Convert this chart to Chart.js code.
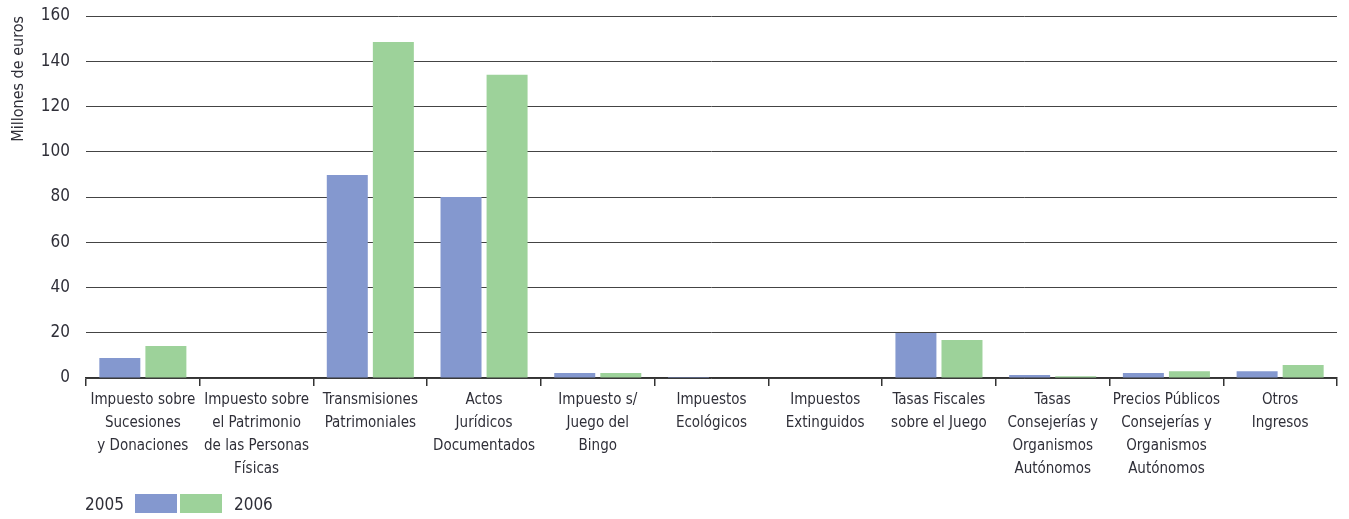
<!DOCTYPE html>
<html>
<head>
<meta charset="utf-8">
<script src="https://cdn.jsdelivr.net/npm/chart.js@4/dist/chart.umd.min.js"></script>
<style>
  html, body { margin: 0; padding: 0; background: #fff; }
  #wrap { position: relative; width: 1349px; height: 519px; }
  #legend { position: absolute; left: 85px; top: 494px; height: 19px; display: flex; align-items: center;
    font-family: 'Liberation Sans Narrow', 'DejaVu Sans Condensed', sans-serif; font-size: 17px; color: #2f2f38; }
  #legend .box { width: 42px; height: 19px; display: inline-block; }
</style>
</head>
<body>
<div id="wrap">
  <canvas id="c" width="1349" height="519"></canvas>
  <div id="legend">
    <span style="margin-right:11px">2005</span>
    <span class="box" style="background:#8498cf;margin-right:3px"></span>
    <span class="box" style="background:#9dd29a;margin-right:12px"></span>
    <span>2006</span>
  </div>
</div>
<script>
const categories = [
  ["Impuesto sobre","Sucesiones","y Donaciones"],
  ["Impuesto sobre","el Patrimonio","de las Personas","Físicas"],
  ["Transmisiones","Patrimoniales"],
  ["Actos","Jurídicos","Documentados"],
  ["Impuesto s/","Juego del","Bingo"],
  ["Impuestos","Ecológicos"],
  ["Impuestos","Extinguidos"],
  ["Tasas Fiscales","sobre el Juego"],
  ["Tasas","Consejerías y","Organismos","Autónomos"],
  ["Precios Públicos","Consejerías y","Organismos","Autónomos"],
  ["Otros","Ingresos"]
];
const values2005 = [8.8, 0, 89.7, 80.0, 2.2, 0.4, 0, 19.9, 1.3, 2.2, 3.0];
const values2006 = [14.1, 0, 148.5, 134.0, 2.2, 0, 0, 16.8, 0.8, 3.0, 5.7];
const yTicks = [0, 20, 40, 60, 80, 100, 120, 140, 160];
const seriesNames = ["2005", "2006"];

const FONT = "'Liberation Sans Narrow', 'DejaVu Sans Condensed', sans-serif";
const TXT = '#2f2f38';

new Chart(document.getElementById('c'), {
  type: 'bar',
  data: {
    labels: categories,
    datasets: [
      { label: seriesNames[0], data: values2005, backgroundColor: '#8498cf', categoryPercentage: 0.81, barPercentage: 0.89 },
      { label: seriesNames[1], data: values2006, backgroundColor: '#9dd29a', categoryPercentage: 0.81, barPercentage: 0.89 }
    ]
  },
  options: {
    responsive: false,
    animation: false,
    layout: { padding: { top: 16, right: 12, left: 0, bottom: 0 } },
    plugins: { legend: { display: false }, tooltip: { enabled: false } },
    scales: {
      x: {
        offset: true,
        grid: { offset: true, drawOnChartArea: false, drawTicks: true, tickLength: 8, color: '#333', lineWidth: 1.5 },
        border: { display: true, color: '#333', width: 1.5 },
        ticks: { color: TXT, font: { family: FONT, size: 15, lineHeight: 1.55 }, padding: 2, maxRotation: 0, autoSkip: false },
        afterFit: (s) => { s.height = 141; s.paddingTop = 0; s.paddingBottom = 0; }
      },
      y: {
        min: 0, max: 160,
        afterBuildTicks: (s) => { s.ticks = yTicks.map(v => ({ value: v })); },
        grid: { drawTicks: false, color: '#444', lineWidth: 1 },
        border: { display: false },
        ticks: { color: TXT, font: { family: FONT, size: 17 }, padding: 16 },
        title: { display: true, text: 'Millones de euros', align: 'end', color: TXT, font: { family: FONT, size: 16 }, padding: { top: 9, bottom: 0 } },
        afterFit: (s) => { s.width = 86; s.paddingTop = 0; s.paddingBottom = 0; }
      }
    }
  }
});
</script>
</body>
</html>
